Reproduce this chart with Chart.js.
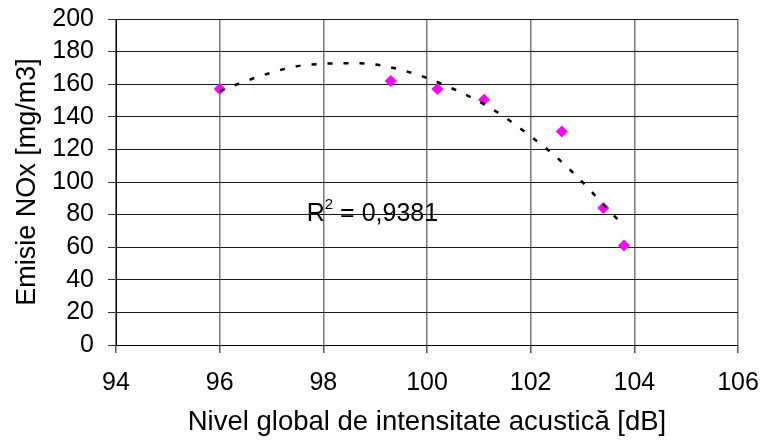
<!DOCTYPE html>
<html>
<head>
<meta charset="utf-8">
<script src="https://cdn.jsdelivr.net/npm/chart.js@4/dist/chart.umd.min.js"></script>
<style>
  html, body { margin: 0; padding: 0; background: #ffffff; }
  #wrap { width: 762px; height: 444px; }
</style>
</head>
<body>
<div id="wrap"><canvas id="c" width="762" height="444"></canvas></div>
<script>
// Measured points: Nivel global de intensitate acustică [dB] vs Emisie NOx [mg/m3]
const soundLevel = [96, 99.3, 100.2, 101.1, 102.6, 103.4, 103.8];
const noxEmission = [157, 162, 157, 150.5, 131, 84, 61];

// Trendline
const trendX = [96, 96.5, 97, 97.5, 98, 98.5, 99, 99.5, 100, 100.5, 101, 101.5, 102, 102.5, 103, 103.5, 103.8];
const trendY = [155.7, 161.9, 167.1, 171.1, 172.5, 172.9, 172.1, 168.8, 163.8, 157.2, 149.5, 139.8, 128.0, 115.2, 99.9, 82.9, 73.0];

// Axis ticks
const xTicks = [94, 96, 98, 100, 102, 104, 106];
const yTicks = [0, 20, 40, 60, 80, 100, 120, 140, 160, 180, 200];

const rSquaredLabel = { base: 'R', sup: '2', rest: ' = 0,9381', x: 97.68, y: 80 };

const FONT = "'Liberation Sans', Arial, sans-serif";

const measured = soundLevel.map((x, i) => ({ x: x, y: noxEmission[i] }));
const trend = trendX.map((x, i) => ({ x: x, y: trendY[i] }));

const r2Plugin = {
  id: 'r2',
  afterDraw(chart) {
    const ctx = chart.ctx;
    const xs = chart.scales.x, ys = chart.scales.y;
    const px = xs.getPixelForValue(rSquaredLabel.x);
    const py = ys.getPixelForValue(rSquaredLabel.y);
    ctx.save();
    ctx.fillStyle = '#000';
    ctx.textBaseline = 'middle';
    ctx.textAlign = 'left';
    ctx.font = '25px ' + FONT;
    ctx.fillText(rSquaredLabel.base, px, py);
    let w = ctx.measureText(rSquaredLabel.base).width;
    ctx.font = '15px ' + FONT;
    ctx.fillText(rSquaredLabel.sup, px + w, py - 10);
    const w2 = ctx.measureText(rSquaredLabel.sup).width;
    ctx.font = '25px ' + FONT;
    ctx.fillText(rSquaredLabel.rest, px + w + w2, py);
    ctx.restore();
  }
};

new Chart(document.getElementById('c'), {
  type: 'scatter',
  data: {
    datasets: [
      {
        label: 'trend',
        data: trend,
        showLine: true,
        borderColor: '#000000',
        borderWidth: 2.5,
        borderDash: [5, 11],
        pointRadius: 0,
        cubicInterpolationMode: 'monotone',
        fill: false,
        order: 0
      },
      {
        label: 'NOx',
        data: measured,
        pointStyle: 'rectRot',
        pointRadius: 6,
        pointBackgroundColor: '#FF00FF',
        pointBorderColor: '#FF00FF',
        pointBorderWidth: 0,
        showLine: false,
        order: 1
      }
    ]
  },
  options: {
    responsive: false,
    animation: false,
    devicePixelRatio: 1,
    layout: { padding: { top: 19, right: 24, left: 0, bottom: 0 } },
    plugins: {
      legend: { display: false },
      tooltip: { enabled: false }
    },
    scales: {
      x: {
        type: 'linear',
        min: xTicks[0],
        max: xTicks[xTicks.length - 1],
        afterBuildTicks(axis) { axis.ticks = xTicks.map(v => ({ value: v })); },
        afterFit(axis) { axis.height = 99; axis.paddingLeft = 0; axis.paddingRight = 0; },
        grid: { color: '#7a7a7a', lineWidth: 1.5, tickLength: 8, tickColor: '#555' },
        border: { display: true, color: '#000', width: 1 },
        ticks: { color: '#000', font: { family: FONT, size: 25 }, padding: 15, maxRotation: 0, autoSkip: false },
        title: {
          display: true,
          text: 'Nivel global de intensitate acustică [dB]',
          color: '#000',
          font: { family: FONT, size: 27.5 },
          padding: { top: 0, bottom: 5 }
        }
      },
      y: {
        type: 'linear',
        min: yTicks[0],
        max: yTicks[yTicks.length - 1],
        afterBuildTicks(axis) { axis.ticks = yTicks.map(v => ({ value: v })); },
        afterFit(axis) { axis.width = 116; axis.paddingTop = 0; axis.paddingBottom = 0; },
        grid: { color: '#1a1a1a', lineWidth: 1, tickLength: 8, tickColor: '#333' },
        border: { display: true, color: '#000', width: 1 },
        ticks: { color: '#000', font: { family: FONT, size: 25 }, padding: 14, autoSkip: false },
        title: {
          display: true,
          text: 'Emisie NOx [mg/m3]',
          color: '#000',
          font: { family: FONT, size: 27 },
          padding: { top: 11, bottom: 0 }
        }
      }
    }
  },
  plugins: [r2Plugin]
});
</script>
</body>
</html>
